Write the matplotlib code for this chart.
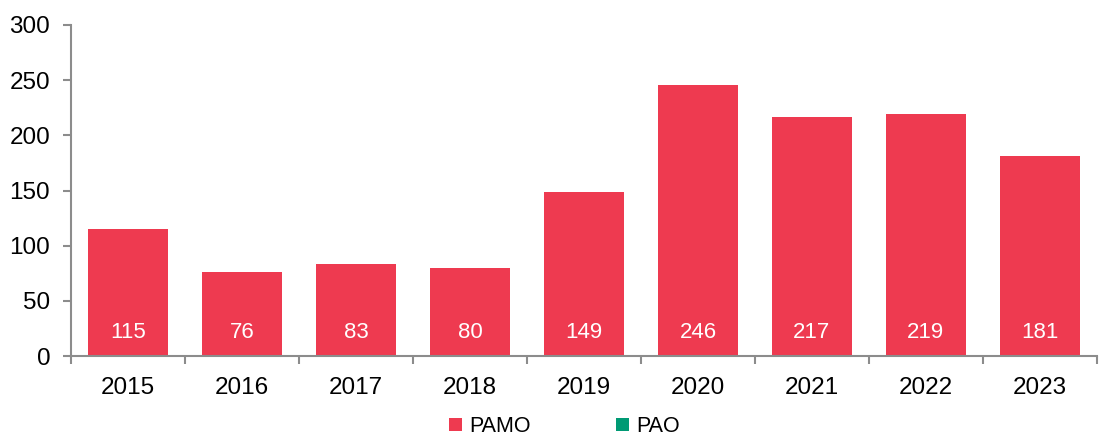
import numpy as np
import matplotlib.pyplot as plt

plt.rcParams['font.family'] = ['Liberation Sans', 'DejaVu Sans']

years = ['2015', '2016', '2017', '2018', '2019', '2020', '2021', '2022', '2023']
pamo = [115, 76, 83, 80, 149, 246, 217, 219, 181]
pao = [0, 0, 0, 0, 0, 0, 0, 0, 0]

red = '#EE3A50'
green = '#009A74'
grey = '#8c8c8c'

fig = plt.figure(figsize=(11.02, 4.38), dpi=100)
ax = fig.add_axes([0.0644, 0.187, 0.931, 0.756])

x = np.arange(len(years))
ax.bar(x, pamo, width=0.70, color=red, label='PAMO', zorder=2)
ax.bar(x, pao, bottom=pamo, width=0.70, color=green, label='PAO', zorder=2)

for xi, v in zip(x, pamo):
    ax.text(xi, 21, str(v), ha='center', va='center', color='white', fontsize=16)

ax.set_xlim(-0.5, len(years) - 0.5)
ax.set_ylim(0, 300)
ax.set_yticks(range(0, 301, 50))

# ticks on category boundaries, labels at centres
ax.set_xticks(np.arange(-0.5, len(years), 1.0))
ax.set_xticklabels([])
ax.set_xticks(x, minor=True)
ax.set_xticklabels(years, minor=True)
ax.tick_params(axis='x', which='major', length=6, width=1.5, color=grey, direction='out')
ax.tick_params(axis='x', which='minor', length=0, labelsize=17.5, pad=15)
ax.tick_params(axis='y', length=6, width=1.5, color=grey, labelsize=17.5, pad=9)

for s in ['top', 'right']:
    ax.spines[s].set_visible(False)
for s in ['left', 'bottom']:
    ax.spines[s].set_color(grey)
    ax.spines[s].set_linewidth(1.5)

fig.legend(loc='lower center', bbox_to_anchor=(0.512, -0.042), ncol=2, frameon=False,
           fontsize=15.5, handlelength=0.6, handleheight=0.6, handletextpad=0.35,
           columnspacing=3.95)

fig.savefig('out.png', dpi=100)
